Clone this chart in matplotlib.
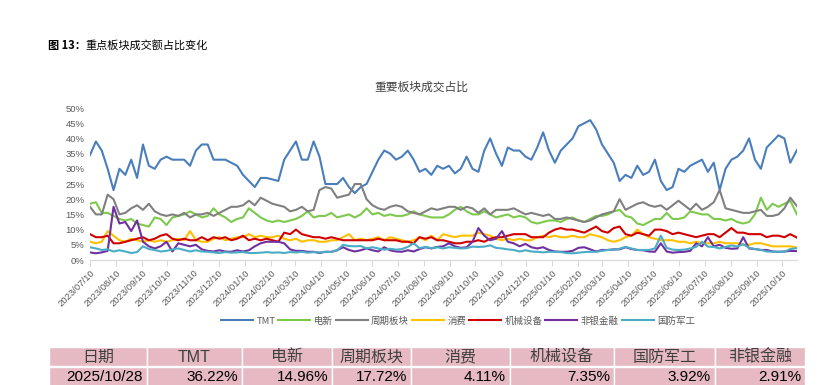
import matplotlib
matplotlib.use("Agg")
import matplotlib.pyplot as plt
import matplotlib.dates as mdates
from matplotlib.patches import Rectangle
import pandas as pd

plt.rcParams['font.family'] = ['Noto Sans CJK SC', 'DejaVu Sans']

# weekly readings, plus the last day
dates = list(pd.date_range("2023-07-10", periods=120, freq="7D")) + [pd.Timestamp("2025-10-28")]

tmt = [34.5, 39, 36, 30, 23, 30, 28, 33, 27, 38,
       31, 30, 33, 34, 33, 33, 33, 31, 36, 38,
       38, 33, 33, 33, 32, 31, 28, 26, 24, 27,
       27, 26.5, 26, 33, 36, 39, 33, 33, 39, 34,
       25, 25, 25, 27, 24, 22, 24, 25, 29, 33,
       36, 35, 33, 34, 36, 33, 29, 30, 28, 31,
       30, 31, 28.5, 30, 34, 30, 29, 36, 40, 35,
       31, 37, 36, 36, 34, 33, 37, 42, 36, 32,
       36, 38, 40, 44, 45, 46, 43, 38, 35, 32,
       26, 28, 27, 31, 28, 29, 33, 26, 23, 24,
       30, 29, 31, 32, 33, 29, 32, 23, 30, 33,
       34, 36, 40, 33, 30, 37, 39, 41, 40, 32,
       36.22]

dianxin = [18.5, 19, 15.5, 15.5, 14.5, 13.5, 13, 13.5, 12, 11.5,
           11, 14, 13.5, 11.5, 14, 14.5, 15, 16, 15, 14,
           14.5, 17, 15, 14, 12.5, 13.5, 14, 17, 15.5, 14,
           13, 12.5, 13, 12.5, 13, 13.5, 14.5, 16, 14, 14.5,
           14.5, 15.5, 14, 14.5, 15, 14, 15, 17, 15, 15.5,
           14.5, 15, 14.5, 14.5, 15, 16, 15, 14.5, 14, 14,
           14, 15, 16.5, 17.5, 16, 15, 15, 16, 15, 14,
           14.5, 15, 14, 14.5, 14, 12.5, 12, 12.5, 13, 13,
           12.5, 13.5, 14, 13, 12.5, 13.5, 14.5, 14.5, 15, 16,
           16.5, 14.5, 14, 12, 11.5, 12.5, 13.5, 13.5, 15.5, 13.5,
           13.5, 14, 16, 15.5, 15, 15, 13.5, 13.5, 13, 13.5,
           12.5, 12, 12.5, 15, 20.5, 16.5, 18.5, 17.5, 18.5, 19.5,
           14.96]

zhouqi = [17.5, 15, 15, 21.5, 20, 15, 15.5, 17, 18, 16.5,
          18.5, 16, 15, 14.5, 15, 14.5, 15.5, 14, 15, 15,
          15.5, 14.5, 15.5, 16.5, 17.5, 17.5, 18, 19.5, 18, 20.5,
          19.5, 18.5, 18, 17.5, 16, 16.5, 17.5, 16, 16.5, 23,
          24, 23.5, 20.5, 21, 21.5, 25, 25, 20, 18, 17,
          16.5, 17.5, 18, 17.5, 16, 15.5, 15, 16, 17, 16.5,
          17, 17.5, 17.5, 16.5, 17.5, 17, 15.5, 17, 15, 16.5,
          16.5, 16.5, 17, 16, 15, 15.5, 15, 14.5, 15, 13.5,
          13.5, 14, 13.5, 13, 12.5, 13, 14, 15, 15.5, 16,
          20, 16.5, 17.5, 18.5, 19, 18, 17.5, 18, 16.5, 18,
          19.5, 18, 16.5, 18.5, 16.5, 17.5, 19, 23, 17, 16.5,
          16, 15.5, 15.5, 16, 16.5, 14.5, 14.5, 15, 17, 20.5,
          17.72]

xiaofei = [6, 5.5, 6, 9.5, 8, 6.5, 6, 7, 6.5, 6,
           6.5, 6, 6.5, 6, 6.5, 7, 6.5, 9.5, 6.5, 6,
           6, 7, 7.5, 6.5, 7, 7.5, 7.5, 8.5, 7.5, 8,
           7.5, 7.5, 8, 7, 6.5, 7, 6, 6.5, 6.5, 6,
           6, 6.5, 6.5, 7.5, 8.5, 6.5, 7, 6.5, 7, 7.5,
           6.5, 7.5, 7, 6.5, 6, 6.5, 7.5, 6.5, 8, 6.5,
           8.5, 8, 7.5, 8, 8, 8, 9, 8.5, 8, 7,
           6.5, 7, 6.5, 7, 6.5, 6.5, 7.5, 8, 7.5, 8,
           7.5, 7.5, 8, 7.5, 7.5, 8.5, 8, 7.5, 6.5, 6,
           6.5, 7.5, 8, 10, 8.5, 7.5, 7, 6.5, 6.5, 6.5,
           6, 6, 5.5, 6, 5.5, 5.5, 5.5, 6, 5.5, 5.5,
           5.5, 5, 5, 5.5, 5.5, 5, 4.5, 4.5, 4.5, 4.5,
           4.11]

jixie = [8.5, 7.5, 7.5, 8, 5.5, 5.5, 6, 6.5, 7, 7.5,
         6.5, 7, 8, 8.5, 7, 6.5, 7, 6.5, 6.5, 7.5,
         6.5, 7.5, 7, 7.5, 6.5, 7, 8, 6.5, 7, 6.5,
         7, 6.5, 6, 9, 8.5, 10, 8.5, 8, 7.5, 7.5,
         7, 7.5, 7, 6.5, 6.5, 6.5, 6.5, 6.5, 6.5, 7,
         6.5, 6.5, 6.5, 6, 6, 5.5, 7.5, 7, 7.5, 6.5,
         6.5, 6, 5.5, 5.5, 6, 6, 6.5, 6, 7, 7.5,
         7.5, 8, 8.5, 8.5, 8.5, 7.5, 7.5, 7.5, 9, 10,
         10.5, 10, 10, 9.5, 9, 10, 11, 9.5, 9, 10.5,
         11, 8.5, 8, 9, 8.5, 8, 10, 10, 9.5, 8.5,
         9, 8.5, 8, 7.5, 8, 8.5, 8.5, 7.5, 9, 10.5,
         9, 9, 8.5, 8.5, 8.5, 7.5, 8, 8, 7.5, 8.5,
         7.35]

feiyin = [2.5, 2.2, 2.5, 3, 17.5, 12, 12.5, 9.5, 13, 6,
          4.5, 3.8, 4.5, 6, 2.8, 5.5, 5, 4.5, 5, 3.5,
          3, 2.8, 3.2, 2.8, 2.7, 3.2, 2.8, 3.2, 4.5, 5.5,
          6, 6, 6, 5.5, 3.5, 3, 3, 2.7, 2.7, 2.3,
          2.7, 2.7, 3.2, 4.2, 3.3, 2.8, 3.2, 3.8, 3.2, 2.8,
          4.2, 3.2, 2.8, 2.7, 3.2, 2.8, 3.6, 4.2, 3.8, 4.3,
          4.5, 5.5, 4.5, 4, 4.2, 6, 10.5, 8, 6.5, 7,
          9.5, 6, 5.5, 4.5, 5.3, 4.2, 3.8, 4.2, 3.3, 2.8,
          2.7, 2.7, 3, 4, 4.2, 3.5, 2.8, 3.3, 3.3, 3.5,
          3.5, 4.2, 3.6, 3.3, 3.2, 2.8, 2.7, 5.5, 2.8, 2.4,
          2.6, 2.7, 3, 5.5, 4.5, 7.5, 4.5, 5, 4, 3.7,
          3.8, 7.5, 3.8, 3.6, 3.3, 3.3, 2.8, 2.7, 2.8, 3,
          2.91]

guofang = [4.2, 3.8, 3.3, 3.5, 2.8, 3.2, 2.8, 2.3, 2.6, 4.5,
           3.6, 3.3, 2.8, 3, 3.5, 3.8, 3.3, 2.8, 3.2, 2.8,
           2.7, 2.5, 2.3, 2.6, 2.4, 2.5, 2.6, 2.3, 2.3, 2.4,
           2.6, 2.4, 2.5, 2.3, 2.6, 2.5, 2.7, 2.4, 2.6, 2.5,
           2.7, 2.6, 3.2, 5, 4.6, 4.5, 4.6, 3.8, 4.2, 3.8,
           3.4, 3.7, 3.4, 3.6, 4.3, 5.5, 3.9, 4.3, 3.9, 4.2,
           3.8, 4.2, 4, 3.8, 3.9, 4.4, 4.3, 4.4, 4.8, 4,
           3.8, 3.5, 3.3, 2.8, 3.2, 2.8, 2.7, 2.5, 2.7, 2.7,
           2.6, 2.3, 2.2, 2.4, 2.6, 2.7, 2.7, 3, 3.3, 3.4,
           3.7, 4.3, 3.8, 3.3, 3.3, 3.3, 3.8, 8, 4, 3.4,
           3.3, 3.4, 3.8, 4.3, 6, 4.4, 4.3, 3.8, 4.3, 4.8,
           4.4, 5.2, 4, 3.6, 3.3, 2.8, 2.7, 2.7, 2.7, 3.6,
           3.92]

names = ["TMT", "电新", "周期板块", "消费", "机械设备", "非银金融", "国防军工"]
colors = ["#4A7EBB", "#7DC94B", "#808080", "#FFC000", "#D00000", "#7030A0", "#4BACC6"]
values = [tmt, dianxin, zhouqi, xiaofei, jixie, feiyin, guofang]

table_headers = ["日期", "TMT", "电新", "周期板块", "消费", "机械设备", "国防军工", "非银金融"]
table_values = ["2025/10/28", "36.22%", "14.96%", "17.72%", "4.11%", "7.35%", "3.92%", "2.91%"]

W, H = 838, 385
fig = plt.figure(figsize=(W / 100, H / 100), dpi=100)

ax = fig.add_axes([90 / W, 1 - 260 / H, 707 / W, 152 / H])
lines = []
for name, vals, c in zip(names, values, colors):
    ln, = ax.plot(dates, vals, color=c, lw=1.5, label=name)
    lines.append(ln)

ax.set_ylim(0, 50)
ax.set_yticks(range(0, 51, 5))
ax.yaxis.set_major_formatter(lambda v, p: f"{v:.0f}%")
ax.set_xlim(pd.Timestamp("2023-07-10"), pd.Timestamp("2025-10-28"))
ax.xaxis.set_major_locator(mdates.MonthLocator(bymonthday=10))
ax.xaxis.set_major_formatter(mdates.DateFormatter("%Y/%m/%d"))
for s in ["top", "right", "left"]:
    ax.spines[s].set_visible(False)
ax.spines["bottom"].set_color("#D9D9D9")
ax.tick_params(axis="x", direction="out", length=4, color="#D9D9D9", width=0.8,
               labelsize=6.8, labelcolor="#595959", pad=2)
ax.tick_params(axis="y", length=0, labelsize=6.8, labelcolor="#595959", pad=4)
for lab in ax.get_xticklabels():
    lab.set_rotation(45)
    lab.set_ha("right")
    lab.set_rotation_mode("anchor")
    lab.set_family(["Liberation Sans", "DejaVu Sans"])
for lab in ax.get_yticklabels():
    lab.set_family(["Liberation Sans", "DejaVu Sans"])

fig.text(421 / W, 1 - 87 / H, "重要板块成交占比", ha="center", va="center",
         fontsize=8.5, color="#404040")
fig.text(48 / W, 1 - 45 / H, "图 13：", ha="left", va="center",
         fontsize=8, fontweight="bold", color="black")
fig.text(85 / W, 1 - 45 / H, "重点板块成交额占比变化", ha="left", va="center",
         fontsize=8, color="black")

leg = fig.legend(lines, names, loc="center", bbox_to_anchor=(458 / W, 1 - 321 / H),
                 ncol=7, frameon=False, fontsize=6.8, handlelength=3.4,
                 handletextpad=0.35, columnspacing=0.3)
for t in leg.get_texts():
    t.set_color("#595959")

# summary table at the bottom
tax = fig.add_axes([0, 0, 1, 1])
tax.set_xlim(0, W)
tax.set_ylim(H, 0)
tax.axis("off")
col_edges = [49, 147, 242, 332, 411, 510, 614, 715, 805]
pink = "#E6B9C3"
for k in range(len(table_headers)):
    x0, x1 = col_edges[k], col_edges[k + 1]
    tax.add_patch(Rectangle((x0, 347), x1 - x0, 19, facecolor=pink, edgecolor="white", lw=1))
    tax.add_patch(Rectangle((x0, 367), x1 - x0, 25, facecolor=pink, edgecolor="white", lw=1))
    tax.text((x0 + x1) / 2, 357, table_headers[k], ha="center", va="center",
             fontsize=11.5, color="#404040", family=["Liberation Sans", "Noto Sans CJK SC"])
    tax.text(x1 - 4, 381, table_values[k], ha="right", va="baseline",
             fontsize=11, color="black", family=["Liberation Sans", "DejaVu Sans"])

fig.savefig("out.png", dpi=100)
